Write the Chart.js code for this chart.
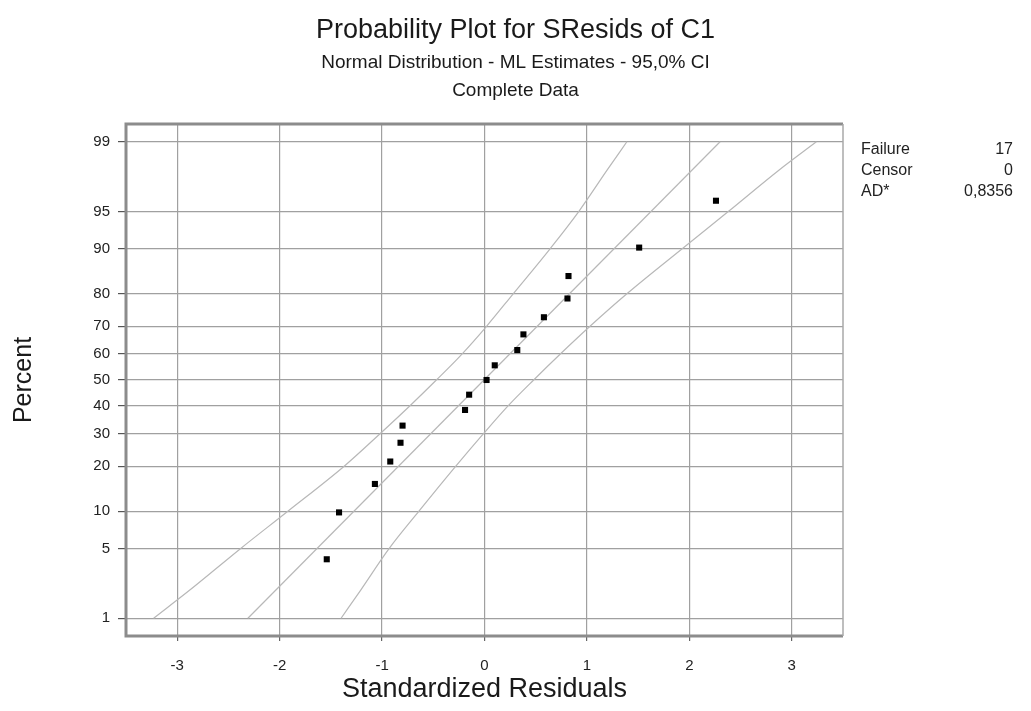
<!DOCTYPE html>
<html>
<head>
<meta charset="utf-8">
<script src="https://cdn.jsdelivr.net/npm/chart.js@4/dist/chart.umd.min.js"></script>
<style>
  html, body { margin: 0; padding: 0; background: #fff; }
  #wrap { width: 1031px; height: 711px; }
</style>
</head>
<body>
<div id="wrap"><canvas id="plot"></canvas></div>
<script>
// standardized residuals and their plotted percent (median ranks)
const resid  = [-1.54, -1.42, -1.07, -0.92, -0.82, -0.80, -0.19, -0.15, 0.02, 0.10, 0.32, 0.38, 0.58, 0.81, 0.82, 1.51, 2.26]
const pctPts = [4.0, 9.8, 15.5, 21.3, 27.0, 32.8, 38.5, 44.3, 50.0, 55.7, 61.5, 67.2, 73.0, 78.7, 84.5, 90.2, 96.0]

// fitted line end points
const fitX   = [-2.31, 2.30]
const fitPct = [1, 99]

// 95% CI band, x position at each percent level
const bandPct   = [1, 2, 5, 10, 20, 30, 40, 50, 60, 70, 80, 90, 95, 98, 99]
const bandLeft  = [-3.23, -2.88, -2.38, -1.92, -1.37, -1.02, -0.73, -0.47, -0.22, 0.02, 0.28, 0.64, 0.92, 1.20, 1.39]
const bandRight = [-1.40, -1.21, -0.93, -0.64, -0.28, -0.01, 0.23, 0.48, 0.74, 1.03, 1.39, 1.93, 2.38, 2.88, 3.24]

const xTicks = [-3, -2, -1, 0, 1, 2, 3]
const yTicks = [1, 5, 10, 20, 30, 40, 50, 60, 70, 80, 90, 95, 99]

const statLabels = ['Failure', 'Censor', 'AD*']
const statValues = ['17', '0', '0,8356']

const FONT = "'Liberation Sans', Arial, sans-serif"

// inverse normal cdf (Acklam)
function probit(p) {
    const a = [-3.969683028665376e+01, 2.209460984245205e+02, -2.759285104469687e+02, 1.383577518672690e+02, -3.066479806614716e+01, 2.506628277459239e+00]
    const b = [-5.447609879822406e+01, 1.615858368580409e+02, -1.556989798598866e+02, 6.680131188771972e+01, -1.328068155288572e+01]
    const c = [-7.784894002430293e-03, -3.223964580411365e-01, -2.400758277161838e+00, -2.549732539343734e+00, 4.374664141464968e+00, 2.938163982698783e+00]
    const d = [7.784695709041462e-03, 3.224671290700398e-01, 2.445134137142996e+00, 3.754408661907416e+00]
    const pl = 0.02425
    if (p < pl) {
        const q = Math.sqrt(-2 * Math.log(p))
        return (((((c[0]*q+c[1])*q+c[2])*q+c[3])*q+c[4])*q+c[5]) / ((((d[0]*q+d[1])*q+d[2])*q+d[3])*q+1)
    }
    if (p > 1 - pl) {
        const q = Math.sqrt(-2 * Math.log(1 - p))
        return -(((((c[0]*q+c[1])*q+c[2])*q+c[3])*q+c[4])*q+c[5]) / ((((d[0]*q+d[1])*q+d[2])*q+d[3])*q+1)
    }
    const q = p - 0.5, r = q * q
    return (((((a[0]*r+a[1])*r+a[2])*r+a[3])*r+a[4])*r+a[5])*q / (((((b[0]*r+b[1])*r+b[2])*r+b[3])*r+b[4])*r+1)
}

function normCdf(z) {
    const t = 1 / (1 + 0.3275911 * Math.abs(z) / Math.SQRT2)
    const y = 1 - (((((1.061405429*t - 1.453152027)*t) + 1.421413741)*t - 0.284496736)*t + 0.254829592)*t*Math.exp(-z*z/2)
    return z >= 0 ? (1 + y) / 2 : (1 - y) / 2
}

// normal probability axis: values are percents, spaced by their z score
class ProbitScale extends Chart.Scale {
    determineDataLimits() {
        this.min = this.options.min
        this.max = this.options.max
    }
    buildTicks() {
        return yTicks.map(v => ({ value: v }))
    }
    getLabelForValue(v) {
        return v + ''
    }
    configure() {
        super.configure()
        this._zStart = probit(this.min / 100)
        this._zEnd = probit(this.max / 100)
    }
    getPixelForValue(v) {
        if (v === null || v === undefined || isNaN(v)) return NaN
        return this.getPixelForDecimal((probit(v / 100) - this._zStart) / (this._zEnd - this._zStart))
    }
    getValueForPixel(px) {
        const z = this._zStart + this.getDecimalForPixel(px) * (this._zEnd - this._zStart)
        return 100 * normCdf(z)
    }
}
ProbitScale.id = 'probit'
ProbitScale.defaults = {}
Chart.register(ProbitScale)

function pairs(xs, ys) {
    return xs.map((x, i) => ({ x: x, y: ys[i] }))
}

// frame round the plot and the stats table on the right
const framePlugin = {
    id: 'frame',
    afterDraw(chart) {
        const ctx = chart.ctx
        const a = chart.chartArea
        ctx.save()
        ctx.strokeStyle = '#8c8c8c'
        ctx.lineWidth = 3
        ctx.beginPath()
        ctx.moveTo(a.right, a.top)
        ctx.lineTo(a.left, a.top)
        ctx.lineTo(a.left, a.bottom)
        ctx.lineTo(a.right, a.bottom)
        ctx.stroke()
        ctx.lineWidth = 1.5
        ctx.strokeStyle = '#a8a8a8'
        ctx.beginPath()
        ctx.moveTo(a.right, a.top)
        ctx.lineTo(a.right, a.bottom)
        ctx.stroke()

        ctx.fillStyle = '#222'
        ctx.font = '16px ' + FONT
        ctx.textBaseline = 'middle'
        statLabels.forEach((t, i) => {
            const y = 150 + i * 21
            ctx.textAlign = 'left'
            ctx.fillText(t, 861, y)
            ctx.textAlign = 'right'
            ctx.fillText(statValues[i], 1013, y)
        })
        ctx.restore()
    }
}

const bandStyle = {
    showLine: true,
    pointRadius: 0,
    cubicInterpolationMode: 'monotone',
    borderColor: '#b8b8b8',
    borderWidth: 1.2,
    yAxisID: 'y'
}

const canvas = document.querySelector('#plot')
const myChart = new Chart(canvas.getContext('2d'), {
    type: 'scatter',
    data: {
        datasets: [
            {
                label: 'Residuals',
                data: pairs(resid, pctPts),
                pointStyle: 'rect',
                pointRadius: 4.3,
                backgroundColor: '#000',
                borderColor: '#000',
                borderWidth: 0,
                yAxisID: 'y'
            },
            {
                label: 'Fit',
                data: pairs(fitX, fitPct),
                showLine: true,
                pointRadius: 0,
                borderColor: '#b8b8b8',
                borderWidth: 1.2,
                yAxisID: 'y'
            },
            Object.assign({ label: 'Lower', data: pairs(bandLeft, bandPct) }, bandStyle),
            Object.assign({ label: 'Upper', data: pairs(bandRight, bandPct) }, bandStyle)
        ]
    },
    options: {
        responsive: true,
        maintainAspectRatio: false,
        animation: false,
        events: [],
        layout: { padding: 0 },
        plugins: {
            legend: { display: false },
            tooltip: { enabled: false },
            title: {
                display: true,
                text: 'Probability Plot for SResids of C1',
                color: '#1a1a1a',
                font: { family: FONT, size: 27, weight: 'normal', lineHeight: 1.2 },
                padding: { top: 14, bottom: 0 }
            },
            subtitle: {
                display: true,
                text: ['Normal Distribution - ML Estimates - 95,0% CI', 'Complete Data'],
                color: '#1a1a1a',
                font: { family: FONT, size: 19, lineHeight: 28 / 19 },
                padding: { top: 2, bottom: 19.6 }
            }
        },
        scales: {
            x: {
                type: 'linear',
                min: -3.5,
                max: 3.5,
                afterBuildTicks: s => { s.ticks = xTicks.map(v => ({ value: v })) },
                afterFit: s => { s.height = 75 },
                border: { display: false },
                grid: { color: '#a0a0a0', lineWidth: 1.2, tickLength: 5, tickColor: '#666' },
                ticks: { color: '#222', font: { family: FONT, size: 15 }, padding: 16 },
                title: {
                    display: true,
                    text: 'Standardized Residuals',
                    color: '#1a1a1a',
                    font: { family: FONT, size: 27 },
                    padding: { top: 0, bottom: 5 }
                }
            },
            y: {
                type: 'probit',
                position: 'left',
                axis: 'y',
                min: 0.621,
                max: 99.379,
                afterFit: s => { s.width = 126 },
                border: { display: false },
                grid: { color: '#a0a0a0', lineWidth: 1.2, tickLength: 8, tickColor: '#555' },
                ticks: { color: '#222', font: { family: FONT, size: 15 }, padding: 8, autoSkip: false },
                title: {
                    display: true,
                    text: 'Percent',
                    color: '#1a1a1a',
                    font: { family: FONT, size: 25 },
                    padding: { top: 9, bottom: 0 }
                }
            },
            yRight: {
                type: 'linear',
                position: 'right',
                axis: 'y',
                afterFit: s => { s.width = 188 },
                border: { display: false },
                grid: { display: false, drawTicks: false },
                ticks: { display: false }
            }
        }
    },
    plugins: [framePlugin]
});
</script>
</body>
</html>
